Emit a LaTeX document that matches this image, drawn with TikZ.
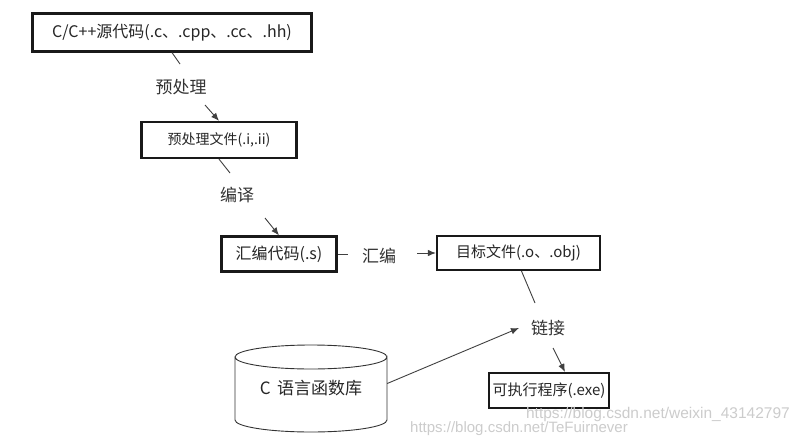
\documentclass[tikz,border=0pt]{standalone}
\usepackage{fontspec}
\setmainfont{Noto Sans CJK SC}
\newfontfamily\wmfont{Liberation Sans}
\usetikzlibrary{calc,arrows.meta}

\tikzset{
  filebox/.style={draw=black!90, line width=2.2pt, inner sep=0pt, text=black!85},
  steplabel/.style={inner sep=0pt, text=black!80, font=\fontsize{17}{17}\selectfont},
  conn/.style={draw=black!75, line width=0.9pt},
  arr/.style={conn, -{Latex[length=8pt,width=6.5pt]}},
}

\begin{document}
\begin{tikzpicture}[x=1pt, y=-1pt]
  \useasboundingbox[fill=white] (0,0) rectangle (800,436);

  % files
  \node[filebox, minimum width=279, minimum height=38, font=\fontsize{16}{16}\selectfont]
    (src) at (172,32.5) {C/C++源代码(.c、.cpp、.cc、.hh)};
  \node[filebox, minimum width=155, minimum height=36, font=\fontsize{14}{14}\selectfont]
    (pre) at (219,140) {预处理文件(.i,.ii)};
  \node[filebox, minimum width=115, minimum height=35, font=\fontsize{16}{16}\selectfont]
    (asm) at (279,254) {汇编代码(.s)};
  \node[filebox, minimum width=163, minimum height=34, font=\fontsize{15}{15}\selectfont]
    (obj) at (518.5,253) {目标文件(.o、.obj)};
  \node[filebox, minimum width=120, minimum height=35, font=\fontsize{15}{15}\selectfont]
    (exe) at (549,390.5) {可执行程序(.exe)};

  % library
  \draw[line width=0.9pt, black!80] (235,357) -- (235,420) arc (180:0:76 and 12)
                                    -- (387,357) arc (0:360:76 and 12);
  \node[minimum width=152, minimum height=87, inner sep=0pt, text=black!85,
        font=\fontsize{17}{17}\selectfont] (lib) at (311,388.5) {C\, 语言函数库};

  % steps
  \node[steplabel] (tpre)  at (181,87.5) {预处理};
  \node[steplabel] (tcomp) at (237,195)  {编译};
  \node[steplabel] (tasm)  at (379,256)  {汇编};
  \node[steplabel] (tlink) at (548,328)  {链接};

  \coordinate (c1) at (180,64);
  \coordinate (c2) at (205,105);
  \coordinate (c3) at (230,173);
  \coordinate (c4) at (265,218);
  \coordinate (c5) at (348,254);
  \coordinate (c6) at (417,253);
  \coordinate (c7) at (535,303);
  \coordinate (c8) at (519,328);
  \coordinate (c9) at (553,348);

  \draw[conn] (src.south) -- (c1);
  \draw[arr]  (c2) -- (pre.north);
  \draw[conn] (pre.south) -- (c3);
  \draw[arr]  (c4) -- (asm.north);
  \draw[conn] (asm.east) -- (c5);
  \draw[arr]  (c6) -- (obj.west);
  \draw[conn] ([xshift=3pt]obj.south) -- (c7);
  \draw[arr]  ([yshift=5pt]lib.east) -- (c8);
  \draw[arr]  (c9) -- ([xshift=16pt]exe.north);

  % watermarks
  \node[anchor=east, inner sep=0pt, text=black!20, font=\wmfont\fontsize{15.5}{15.5}\selectfont]
    (wm1) at (790,414) {https://blog.csdn.net/weixin\_43142797};
  \node[anchor=west, inner sep=0pt, text=black!20, font=\wmfont\fontsize{15}{15}\selectfont]
    (wm2) at (410,429) {https://blog.csdn.net/TeFuirnever};
\end{tikzpicture}
\end{document}
